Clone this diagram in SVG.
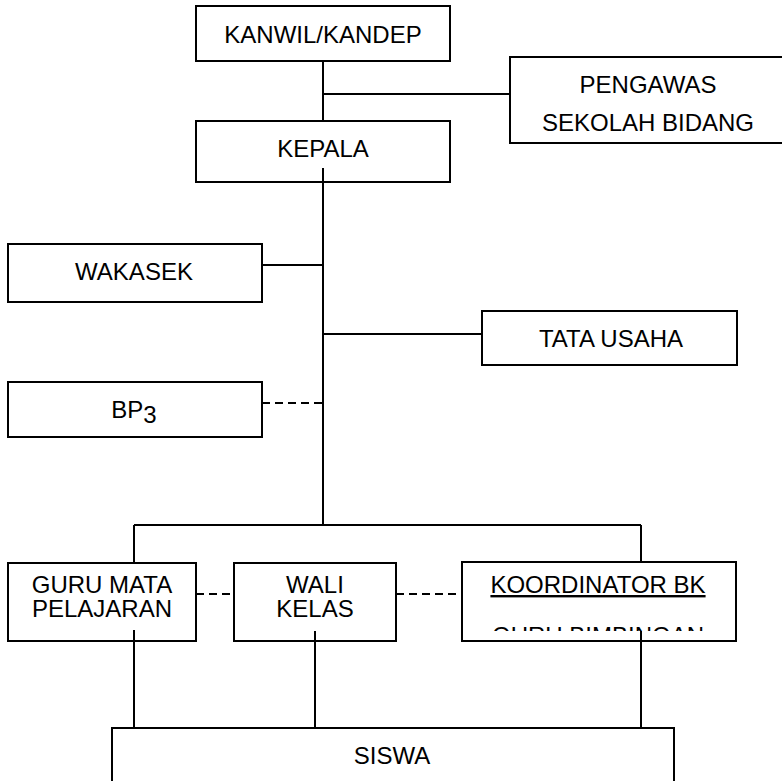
<svg xmlns="http://www.w3.org/2000/svg" width="782" height="781" viewBox="0 0 782 781">
  <defs>
    <style>
      .box { fill: #ffffff; stroke: #000000; stroke-width: 2; }
      .ln { fill: none; stroke: #000000; stroke-width: 2; }
      .dash { fill: none; stroke: #000000; stroke-width: 2; stroke-dasharray: 8 5; }
      .t { font-family: "Liberation Sans", Arial, sans-serif; font-size: 24px; fill: #000000; text-anchor: middle; }
    </style>
    <clipPath id="clipKoord">
      <rect x="462" y="562" width="274" height="69"/>
    </clipPath>
  </defs>
  <rect x="0" y="0" width="782" height="781" fill="#ffffff"/>

  <g id="n-kanwil">
    <rect class="box" x="196" y="6" width="254" height="55"/>
    <text class="t" x="323" y="43">KANWIL/KANDEP</text>
  </g>
  <g id="n-pengawas">
    <rect class="box" x="510" y="57" width="290" height="86"/>
    <text class="t" x="648" y="93">PENGAWAS</text>
    <text class="t" x="648" y="131">SEKOLAH BIDANG</text>
  </g>
  <g id="n-kepala">
    <rect class="box" x="196" y="121" width="254" height="61"/>
    <text class="t" x="323" y="157">KEPALA</text>
  </g>
  <g id="n-wakasek">
    <rect class="box" x="8" y="244" width="254" height="58"/>
    <text class="t" x="134" y="280">WAKASEK</text>
  </g>
  <g id="n-tatausaha">
    <rect class="box" x="482" y="311" width="255" height="54"/>
    <text class="t" x="611" y="347">TATA USAHA</text>
  </g>
  <g id="n-bp3">
    <rect class="box" x="8" y="382" width="254" height="55"/>
    <text class="t" x="134" y="418">BP<tspan dy="5">3</tspan></text>
  </g>
  <g id="n-guru">
    <rect class="box" x="8" y="563" width="188" height="78"/>
    <text class="t" x="102" y="593">GURU MATA</text>
    <text class="t" x="102" y="617">PELAJARAN</text>
  </g>
  <g id="n-wali">
    <rect class="box" x="234" y="563" width="162" height="78"/>
    <text class="t" x="315" y="593">WALI</text>
    <text class="t" x="315" y="617">KELAS</text>
  </g>
  <g id="n-koordinator">
    <rect class="box" x="462" y="562" width="274" height="79"/>
    <text class="t" x="598" y="593" text-decoration="underline">KOORDINATOR BK</text>
    <text class="t" x="598" y="644" clip-path="url(#clipKoord)">GURU BIMBINGAN</text>
  </g>
  <g id="n-siswa">
    <rect class="box" x="112" y="728" width="562" height="70"/>
    <text class="t" x="392" y="764">SISWA</text>
  </g>

  <g id="connectors">
    <path class="ln" d="M323 61 V121"/>
    <path class="ln" d="M323 94 H510"/>
    <path class="ln" d="M323 168 V525"/>
    <path class="ln" d="M262 265 H323"/>
    <path class="ln" d="M323 334 H482"/>
    <path class="dash" d="M262 403 H323"/>
    <path class="ln" d="M134 525 H641"/>
    <path class="ln" d="M134 525 V563"/>
    <path class="ln" d="M641 525 V562"/>
    <path class="dash" d="M196 594 H234"/>
    <path class="dash" d="M396 594 H462"/>
    <path class="ln" d="M134 630 V728"/>
    <path class="ln" d="M315 631 V728"/>
    <path class="ln" d="M641 631 V728"/>
  </g>
</svg>
